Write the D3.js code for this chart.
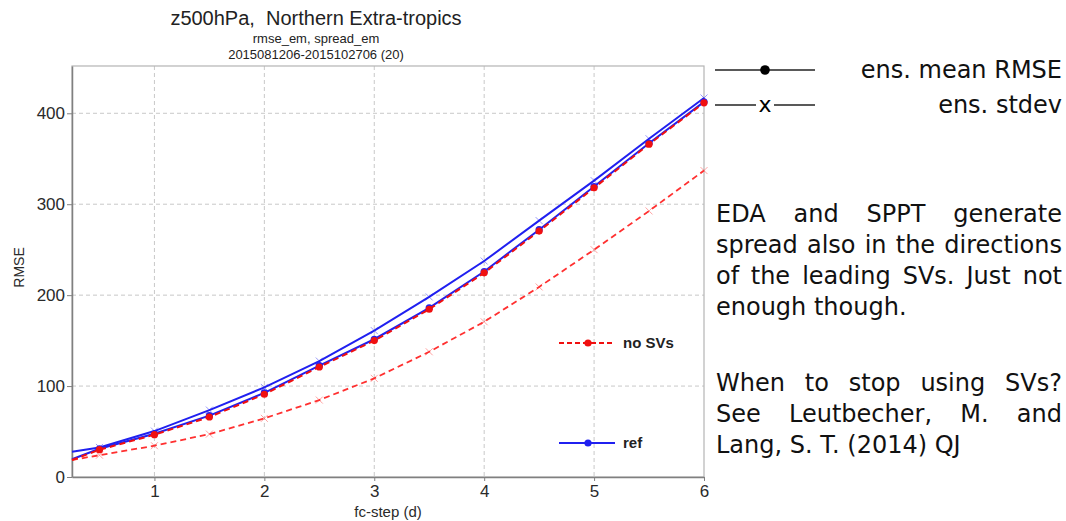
<!DOCTYPE html>
<html>
<head>
<meta charset="utf-8">
<script src="https://cdn.jsdelivr.net/npm/d3@7"></script>
<style>
  body { margin: 0; background: #fff; }
  svg { display: block; }
</style>
</head>
<body>
<div id="chart"></div>
<script>
var WIDTH = 1066;
var HEIGHT = 521;

// data
var fcSteps = [0.25, 0.5, 1, 1.5, 2, 2.5, 3, 3.5, 4, 4.5, 5, 5.5, 6];
var noSvRmse = [18.7, 30, 46.5, 66, 91, 121, 150, 184.5, 224.5, 270.5, 318, 366, 411.5];
var refRmse = [19.5, 31, 47.5, 67.5, 92.5, 122.5, 151.5, 186, 226, 272, 319.5, 367, 412.5];
var noSvSpread = [18.7, 24, 34.4, 47.2, 64.5, 84.6, 108.5, 137.7, 170.7, 209, 250, 292.6, 337];
var refSpread = [27.8, 32.5, 50.5, 73.6, 98.5, 127.5, 161, 198, 237.5, 282, 326, 372, 416.8];
var xTicks = [1, 2, 3, 4, 5, 6];
var yTicks = [0, 100, 200, 300, 400];

var titleLines = ["z500hPa,  Northern Extra-tropics", "rmse_em, spread_em", "2015081206-2015102706 (20)"];
var para1 = ["EDA and SPPT generate", "spread also in the directions", "of the leading SVs. Just not", "enough though."];
var para2 = ["When to stop using SVs?", "See Leutbecher, M. and", "Lang, S. T. (2014) QJ"];

var RED = "#f01010";
var BLUE = "#2020f0";
var AX_FONT = "Liberation Sans, Arial, sans-serif";
var SIDE_FONT = "DejaVu Sans, sans-serif";

var plot = { left: 72, right: 704, top: 66, bottom: 477 };

var svg = d3.select("#chart").append("svg")
	.attr("width", WIDTH).attr("height", HEIGHT);

var x = d3.scaleLinear().domain([0.25, 6]).range([plot.left, plot.right]);
var y = d3.scaleLinear().domain([0, 452]).range([plot.bottom, plot.top]);

// grid
var grid = svg.append("g")
	.attr("stroke", "#c8c8c8").attr("stroke-dasharray", "4,3").attr("stroke-width", 1);
grid.selectAll(".gx").data(xTicks.slice(0, -1)).enter().append("line")
	.attr("x1", d => x(d)).attr("x2", d => x(d))
	.attr("y1", plot.top).attr("y2", plot.bottom);
grid.selectAll(".gy").data(yTicks.slice(1)).enter().append("line")
	.attr("x1", plot.left).attr("x2", plot.right)
	.attr("y1", d => y(d)).attr("y2", d => y(d));

// frame
svg.append("rect")
	.attr("x", plot.left).attr("y", plot.top)
	.attr("width", plot.right - plot.left).attr("height", plot.bottom - plot.top)
	.attr("fill", "none").attr("stroke", "#b4b4b4").attr("stroke-width", 1.2);

// axes
var xAxis = svg.append("g")
	.attr("transform", `translate(0,${plot.bottom})`)
	.call(d3.axisBottom(x).tickValues(xTicks).tickFormat(d3.format("d")).tickSize(4).tickSizeOuter(0));
var yAxis = svg.append("g")
	.attr("transform", `translate(${plot.left},0)`)
	.call(d3.axisLeft(y).tickValues(yTicks).tickSize(5).tickSizeOuter(0));
[xAxis, yAxis].forEach(function(a) {
	a.select(".domain").attr("stroke", "#808080").attr("stroke-width", 1.5);
	a.selectAll(".tick line").attr("stroke", "#808080");
	a.selectAll(".tick text")
		.attr("fill", "#2a2a2a")
		.style("font-family", AX_FONT)
		.style("font-size", "17px");
});
xAxis.selectAll(".tick text").attr("y", 6).attr("dy", "0.8em");
yAxis.selectAll(".tick text").attr("x", -7);

svg.append("text")
	.attr("x", (plot.left + plot.right) / 2).attr("y", 517)
	.attr("text-anchor", "middle")
	.style("font-family", AX_FONT).style("font-size", "15px")
	.attr("fill", "#2a2a2a")
	.text("fc-step (d)");
svg.append("text")
	.attr("transform", `translate(24,${(plot.top + plot.bottom) / 2 - 4}) rotate(-90)`)
	.attr("text-anchor", "middle")
	.style("font-family", AX_FONT).style("font-size", "14px")
	.attr("fill", "#2a2a2a")
	.text("RMSE");

// title
var titleSizes = [20, 13, 13];
var titleY = [25, 43, 59];
titleLines.forEach(function(t, i) {
	svg.append("text")
		.attr("x", 316).attr("y", titleY[i])
		.attr("text-anchor", "middle")
		.style("white-space", "pre")
		.style("font-family", AX_FONT)
		.style("font-size", titleSizes[i] + "px")
		.attr("fill", "#222")
		.text(t);
});

// series
var series = [
	{ values: refSpread, color: BLUE, dash: null, marker: "x", width: 2 },
	{ values: refRmse, color: BLUE, dash: null, marker: "dot", width: 2 },
	{ values: noSvSpread, color: "#ff3030", dash: "6,4", marker: "x", width: 1.8 },
	{ values: noSvRmse, color: RED, dash: "6,4", marker: "dot", width: 2 }
];

var line = d3.line().x(d => x(d[0])).y(d => y(d[1]));

series.forEach(function(s) {
	var pts = fcSteps.map((f, i) => [f, s.values[i]]);
	svg.append("path")
		.datum(pts)
		.attr("d", line)
		.attr("fill", "none")
		.attr("stroke", s.color)
		.attr("stroke-width", s.width)
		.attr("stroke-dasharray", s.dash);
	var marked = pts.filter(p => p[0] >= 0.5);
	if (s.marker === "dot") {
		svg.selectAll(null).data(marked).enter().append("circle")
			.attr("cx", d => x(d[0])).attr("cy", d => y(d[1]))
			.attr("r", 3.6).attr("fill", s.color);
	} else {
		var sz = 3.5;
		svg.selectAll(null).data(marked).enter().append("path")
			.attr("d", d => {
				var cx = x(d[0]), cy = y(d[1]);
				return `M${cx - sz},${cy - sz}L${cx + sz},${cy + sz}M${cx - sz},${cy + sz}L${cx + sz},${cy - sz}`;
			})
			.attr("stroke", s.color).attr("stroke-opacity", 0.45).attr("stroke-width", 1);
	}
});

// inner legend
var innerLegend = [
	{ label: "no SVs", color: RED, dash: "5,3", yy: 343 },
	{ label: "ref", color: BLUE, dash: null, yy: 443 }
];
innerLegend.forEach(function(l) {
	svg.append("line")
		.attr("x1", 559).attr("x2", 615).attr("y1", l.yy).attr("y2", l.yy)
		.attr("stroke", l.color).attr("stroke-width", 2).attr("stroke-dasharray", l.dash);
	svg.append("circle").attr("cx", 588).attr("cy", l.yy).attr("r", 3.6).attr("fill", l.color);
	svg.append("text")
		.attr("x", 623).attr("y", l.yy + 5)
		.style("font-family", AX_FONT)
		.style("font-size", "15px").style("font-weight", "bold")
		.attr("fill", "#222")
		.text(l.label);
});

// right-hand legend
var sideLegend = [
	{ label: "ens. mean RMSE", marker: "dot", yy: 70 },
	{ label: "ens. stdev", marker: "x", yy: 105 }
];
sideLegend.forEach(function(l) {
	svg.append("line")
		.attr("x1", 715).attr("x2", 815).attr("y1", l.yy).attr("y2", l.yy)
		.attr("stroke", "#222").attr("stroke-width", 1.4);
	if (l.marker === "dot") {
		svg.append("circle").attr("cx", 765).attr("cy", l.yy).attr("r", 4.8).attr("fill", "#000");
	} else {
		svg.append("rect").attr("x", 756).attr("y", l.yy - 8).attr("width", 18).attr("height", 16).attr("fill", "#fff");
		svg.append("text")
			.attr("x", 765).attr("y", l.yy + 7)
			.attr("text-anchor", "middle")
			.style("font-family", SIDE_FONT).style("font-size", "22px")
			.text("x");
	}
	svg.append("text")
		.attr("x", 1062).attr("y", l.yy + 8)
		.attr("text-anchor", "end")
		.style("font-family", SIDE_FONT).style("font-size", "24px")
		.attr("fill", "#111")
		.text(l.label);
});

// justified paragraphs
function paragraph(lines, top) {
	var left = 716, right = 1062, lh = 31;
	lines.forEach(function(ln, i) {
		var words = ln.split(" ");
		var last = i === lines.length - 1;
		var t = svg.append("text")
			.attr("y", top + i * lh)
			.style("font-family", SIDE_FONT).style("font-size", "24px")
			.attr("fill", "#111");
		var spans = words.map(w => t.append("tspan").text(w));
		var widths = spans.map(s => s.node().getComputedTextLength());
		var gap = last ? 7.6 : (right - left - d3.sum(widths)) / (words.length - 1);
		var cx = left;
		spans.forEach(function(s, j) {
			s.attr("x", cx);
			cx += widths[j] + gap;
		});
	});
}
paragraph(para1, 222);
paragraph(para2, 391);
</script>
</body>
</html>
